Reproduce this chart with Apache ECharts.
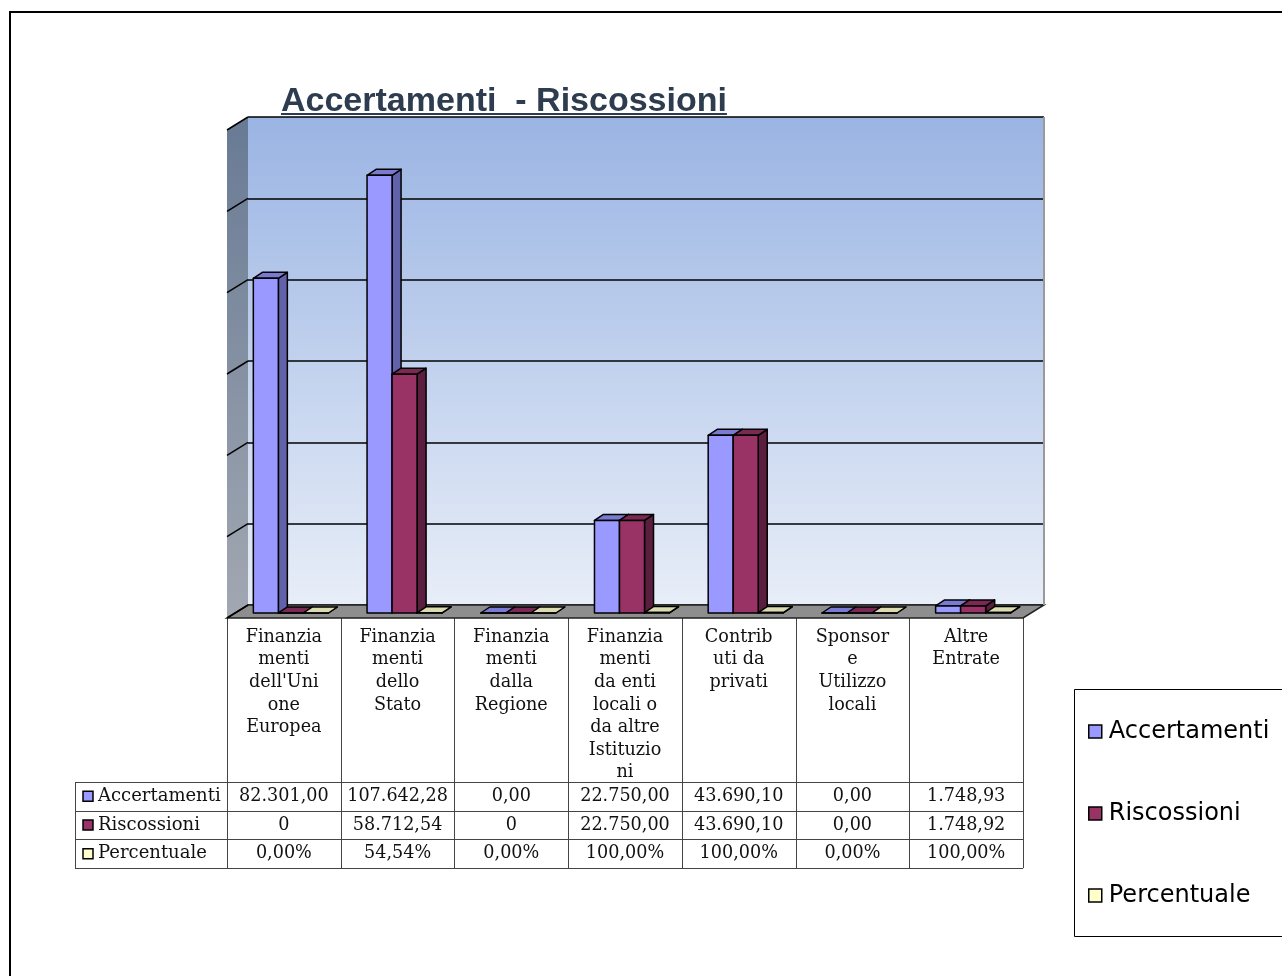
<!DOCTYPE html>
<html>
<head>
<meta charset="utf-8">
<script src="https://cdn.jsdelivr.net/npm/echarts@6/dist/echarts.min.js"></script>
<style>
html,body{margin:0;padding:0;background:#fff;}
#main{width:1282px;height:976px;}
</style>
</head>
<body>
<div id="main"></div>
<script>
// ---------- DATA ----------
const categories = [
  "Finanzia\nmenti\ndell'Uni\none\nEuropea",
  "Finanzia\nmenti\ndello\nStato",
  "Finanzia\nmenti\ndalla\nRegione",
  "Finanzia\nmenti\nda enti\nlocali o\nda altre\nIstituzio\nni",
  "Contrib\nuti da\nprivati",
  "Sponsor\ne\nUtilizzo\nlocali",
  "Altre\nEntrate"
];
const seriesNames = ["Accertamenti", "Riscossioni", "Percentuale"];
const accertamenti = [82301.00, 107642.28, 0, 22750.00, 43690.10, 0, 1748.93];
const riscossioni  = [0, 58712.54, 0, 22750.00, 43690.10, 0, 1748.92];
const percentuale  = [0, 54.54, 0, 100, 100, 0, 100];
const accertamentiText = ["82.301,00", "107.642,28", "0,00", "22.750,00", "43.690,10", "0,00", "1.748,93"];
const riscossioniText  = ["0", "58.712,54", "0", "22.750,00", "43.690,10", "0,00", "1.748,92"];
const percentualeText  = ["0,00%", "54,54%", "0,00%", "100,00%", "100,00%", "0,00%", "100,00%"];
const yMin = 0, yMax = 120000, yInterval = 20000;
const titleText = "Accertamenti  - Riscossioni";

// ---------- LAYOUT / STYLE ----------
const PL = 248, PT = 117, PW = 796, PH = 488;   // back wall (grid)
const DX = 21, DY = 13;                          // wall depth
const BSX = -14, BSY = 8;                        // bar front plane shift
const BDX = 9, BDY = 6;                          // bar depth
const colors = [
  {front: '#9999ff', top: '#7a7ad2', side: '#6262aa'},
  {front: '#993366', top: '#7a2952', side: '#5c1e3e'},
  {front: '#ffffcc', top: '#dcdcb0', side: '#bcbc96'}
];
const seriesValues = [accertamenti, riscossioni, percentuale];
const seriesTexts = [accertamentiText, riscossioniText, percentualeText];

const chart = echarts.init(document.getElementById('main'), null, {renderer: 'canvas'});

function barRenderer(k) {
  const c = colors[k];
  return function (params, api) {
    const i = api.value(0), v = api.value(1);
    const top = api.coord([i, v]);
    const base = api.coord([i, 0]);
    const band = api.size([1, 0])[0];
    const bw = band * 0.22;
    const x0 = top[0] - 1.5 * bw + k * bw + BSX;
    const x1 = x0 + bw;
    const yT = top[1] + BSY, yB = base[1] + BSY;
    const stroke = {stroke: '#000', lineWidth: 1.5, lineJoin: 'round'};
    return {
      type: 'group',
      children: [
        {type: 'polygon', shape: {points: [[x1, yT], [x1 + BDX, yT - BDY], [x1 + BDX, yB - BDY], [x1, yB]]},
          style: Object.assign({fill: c.side}, stroke)},
        {type: 'polygon', shape: {points: [[x0, yT], [x0 + BDX, yT - BDY], [x1 + BDX, yT - BDY], [x1, yT]]},
          style: Object.assign({fill: c.top}, stroke)},
        {type: 'rect', shape: {x: x0, y: yT, width: bw, height: yB - yT},
          style: Object.assign({fill: c.front}, stroke)}
      ]
    };
  };
}

function wallsRenderer(params, api) {
  const cs = params.coordSys;
  const x = cs.x, y = cs.y, w = cs.width, h = cs.height;
  const children = [];
  children.push({type: 'polygon', shape: {points: [[x, y], [x, y + h], [x - DX, y + h + DY], [x - DX, y + DY]]},
    style: {fill: new echarts.graphic.LinearGradient(0, 0, 0, 1, [{offset: 0, color: '#687a94'}, {offset: 1, color: '#a2a8b2'}]), stroke: null}});
  children.push({type: 'polygon', shape: {points: [[x, y + h], [x + w, y + h], [x + w - DX, y + h + DY], [x - DX, y + h + DY]]},
    style: {fill: '#8e8e8e', stroke: '#222', lineWidth: 1.5}});
  children.push({type: 'line', shape: {x1: x + w, y1: y, x2: x + w, y2: y + h}, style: {stroke: '#9a9a9a', lineWidth: 2}});
  for (let v = yMin; v <= yMax; v += yInterval) {
    const p = api.coord([0, v]);
    children.push({type: 'line', shape: {x1: x, y1: p[1], x2: x - DX, y2: p[1] + DY}, style: {stroke: '#000', lineWidth: 1.5}});
  }
  return {type: 'group', children: children};
}

// ---------- TABLE & DECOR ----------
const graphics = [];
graphics.push({type: 'rect', shape: {x: 10, y: 12, width: 1300, height: 1000}, style: {fill: 'none', stroke: '#000', lineWidth: 2}, z: 100});

// title with underline
const measure = document.createElement('canvas').getContext('2d');
const titleFont = 'bold 34px "Liberation Sans"';
measure.font = titleFont;
const tW = measure.measureText(titleText).width;
graphics.push({type: 'text', x: 281, y: 85, style: {text: titleText, font: titleFont, fill: '#2e3c50', align: 'left', verticalAlign: 'top'}});
graphics.push({type: 'rect', shape: {x: 281, y: 113, width: tW, height: 2}, style: {fill: '#2e3c50'}});

const TL = PL - DX, TT = PT + PH + DY, colW = PW / categories.length;
const headerBottom = 782, rowH = 28.7, labelLeft = 75;
const lineStyle = {stroke: '#444', lineWidth: 1};
for (let i = 0; i <= categories.length; i++) {
  const xx = Math.round(TL + i * colW) + 0.5;
  graphics.push({type: 'line', shape: {x1: xx, y1: TT, x2: xx, y2: headerBottom + 3 * rowH}, style: lineStyle});
}
graphics.push({type: 'line', shape: {x1: labelLeft + 0.5, y1: headerBottom, x2: labelLeft + 0.5, y2: headerBottom + 3 * rowH}, style: lineStyle});
for (let r = 0; r <= 3; r++) {
  const yy = Math.round(headerBottom + r * rowH) + 0.5;
  graphics.push({type: 'line', shape: {x1: labelLeft, y1: yy, x2: TL + PW, y2: yy}, style: lineStyle});
}
const serifFont = '17.6px "DejaVu Serif"';
const labelFont = '18px "DejaVu Serif"';
categories.forEach((c, i) => {
  graphics.push({type: 'text', x: TL + (i + 0.5) * colW, y: 626,
    style: {text: c, font: serifFont, lineHeight: 22.6, fill: '#111', align: 'center', verticalAlign: 'top'}});
});
seriesNames.forEach((name, r) => {
  const cy = headerBottom + (r + 0.5) * rowH;
  graphics.push({type: 'rect', shape: {x: 83, y: cy - 5, width: 10, height: 10}, style: {fill: colors[r].front, stroke: '#000', lineWidth: 1.5}});
  graphics.push({type: 'text', x: 98, y: cy, style: {text: name, font: labelFont, fill: '#111', align: 'left', verticalAlign: 'middle'}});
  seriesTexts[r].forEach((t, i) => {
    graphics.push({type: 'text', x: TL + (i + 0.5) * colW, y: cy,
      style: {text: t, font: serifFont, fill: '#111', align: 'center', verticalAlign: 'middle'}});
  });
});
// legend box
graphics.push({type: 'rect', shape: {x: 1074.5, y: 689.5, width: 220, height: 247}, style: {fill: '#fff', stroke: '#000', lineWidth: 1}, z: -1});

const option = {
  backgroundColor: '#fff',
  animation: false,
  grid: {left: PL, top: PT, width: PW, height: PH, show: true, borderWidth: 0,
    backgroundColor: new echarts.graphic.LinearGradient(0, 0, 0, 1, [{offset: 0, color: '#9ab4e3'}, {offset: 1, color: '#e8eef8'}])},
  xAxis: {type: 'category', data: categories, axisLine: {show: false}, axisTick: {show: false}, axisLabel: {show: false}},
  yAxis: {type: 'value', min: yMin, max: yMax, interval: yInterval, axisLine: {show: false}, axisTick: {show: false},
    axisLabel: {show: false}, splitLine: {show: true, lineStyle: {color: '#000', width: 1.5}}},
  legend: {
    orient: 'vertical', left: 1088, top: 719, itemWidth: 13, itemHeight: 13, itemGap: 57, padding: 0,
    icon: 'rect', selectedMode: false,
    textStyle: {fontFamily: 'DejaVu Sans', fontSize: 24, color: '#000', padding: [0, 0, 0, 2], lineHeight: 25},
    data: seriesNames.map((n, k) => ({name: n, itemStyle: {color: colors[k].front, borderColor: '#000', borderWidth: 1.5}}))
  },
  graphic: {elements: graphics},
  series: [
    {type: 'custom', name: '_walls', data: [[0, 0]], renderItem: wallsRenderer, z: 1, silent: true}
  ].concat(seriesNames.map((n, k) => ({
    type: 'custom', name: n, z: 3 + k,
    itemStyle: {color: colors[k].front, borderColor: '#000', borderWidth: 1.5},
    data: seriesValues[k].map((v, i) => [i, v]),
    encode: {x: 0, y: 1},
    renderItem: barRenderer(k)
  })))
};
chart.setOption(option);
</script>
</body>
</html>
